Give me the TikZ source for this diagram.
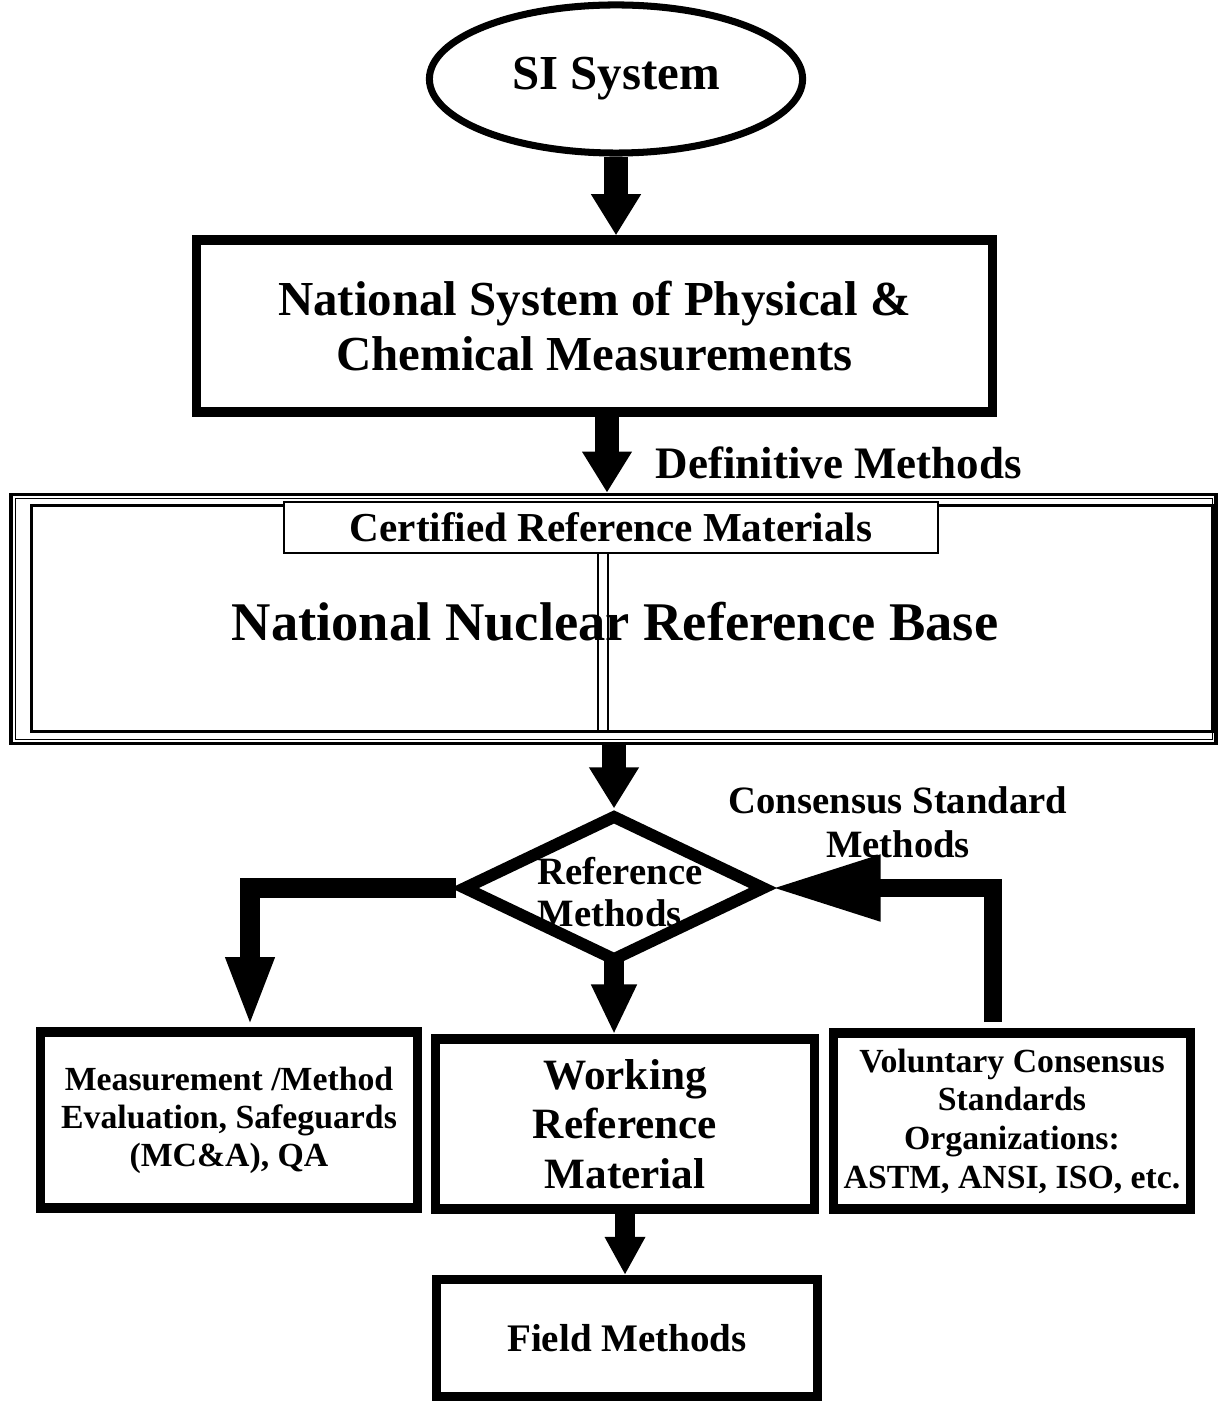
\documentclass[tikz,border=0pt]{standalone}
\usepackage{fontspec}
\setmainfont{Liberation Serif}
\usetikzlibrary{shapes.geometric,arrows.meta}
\tikzset{
  box/.style={draw, line width=2.6pt, inner sep=0pt, align=center},
  blk/.style n args={3}{line width=#1, -{Triangle[length=#2,width=#3]}},
}
\newcommand{\fs}[2]{\bfseries\fontsize{#1}{#2}\selectfont}
\begin{document}
\begin{tikzpicture}[x=0.01cm, y=-0.01cm]
\useasboundingbox (0,0) rectangle (1218,1401);
\node[draw, ellipse, line width=2pt, minimum width=3.73cm, minimum height=1.48cm, inner sep=0pt, font=\fs{13.9}{16}] (si) at (616,79) {SI System};
\node[box, minimum width=7.95cm, minimum height=1.72cm, font=\fs{13.9}{15.6}] (nspcm) at (594.5,326) {National System of Physical \&\\Chemical Measurements};
\node[anchor=west, inner sep=0pt, font=\fs{12.8}{14}] (defm) at (655,463) {Definitive Methods};
% reference base, three lines round it
\node[draw, line width=1pt, minimum width=12.04cm, minimum height=2.49cm, inner sep=0pt] (nnrb) at (613.5,619) {};
\draw[line width=0.4pt] ([shift={(6,6)}]nnrb.north west) rectangle ([shift={(-5,-6)}]nnrb.south east);
\draw[line width=0.9pt] ([shift={(22,13)}]nnrb.north west) rectangle ([shift={(-5,-14)}]nnrb.south east);
\node[inner sep=0pt, font=\fs{15.5}{18}] (nnrbt) at (615,622) {National Nuclear Reference Base};
\node[draw, fill=white, line width=0.7pt, minimum width=6.54cm, minimum height=0.51cm, inner sep=0pt, font=\fs{11.7}{13}] (crm) at (611,527.5) {Certified Reference Materials};
\draw[line width=0.6pt] (598,553) -- (598,730);
\draw[line width=0.6pt] (608,553) -- (608,730);
% lower part
\node[draw, diamond, line width=3.4pt, minimum width=3.03cm, minimum height=1.47cm, inner sep=0pt] (dia) at (614,888) {};
\node[anchor=west, align=left, inner sep=0pt, font=\fs{11}{12}] (rmt) at (537,892) {Reference\\Methods};
\node[align=center, inner sep=0pt, font=\fs{11}{12.5}] (csm) at (898,822) {Consensus Standard\\Methods};
\node[box, minimum width=3.76cm, minimum height=1.76cm, font=\fs{9.6}{10.8}] (mme) at (229,1120) {Measurement /Method\\Evaluation, Safeguards\\(MC\&A), QA};
\node[box, minimum width=3.78cm, minimum height=1.70cm, font=\fs{12.3}{14}] (wrm) at (625,1124) {Working\\Reference\\Material};
\node[box, minimum width=3.57cm, minimum height=1.76cm, font=\fs{9.6}{11}] (vcs) at (1012,1121) {Voluntary Consensus\\Standards\\Organizations:\\ASTM, ANSI, ISO, etc.};
\node[box, minimum width=3.80cm, minimum height=1.17cm, font=\fs{11.1}{13}] (fld) at (627,1338) {Field Methods};
% connectors
\coordinate (m1) at (607,0);
\coordinate (lturn) at (250,888);
\coordinate (rturn) at (993,888);
\coordinate (rfoot) at (993,1022);
\draw[blk={7.1pt}{11.7pt}{13.4pt}] (si.south) -- (si.south |- nspcm.north);
\draw[blk={7.1pt}{11.7pt}{13.4pt}] (nspcm.south -| m1) -- (nnrb.north -| m1);
\draw[blk={7.1pt}{11.7pt}{13.4pt}] (nnrb.south -| dia.north) -- (dia.north);
\draw[blk={5.7pt}{20pt}{12.5pt}, line join=miter] (dia.west) -- (lturn) -- (lturn |- mme.north);
\draw[blk={5.7pt}{14.2pt}{12pt}] ([yshift=3pt]dia.south) -- (dia.south |- wrm.north);
\draw[blk={5.1pt}{31pt}{17.6pt}, line join=miter] (rfoot) -- (rturn) -- (dia.east);
\draw[blk={5.7pt}{10.8pt}{10.8pt}] (wrm.south) -- (wrm.south |- fld.north);
\end{tikzpicture}
\end{document}
